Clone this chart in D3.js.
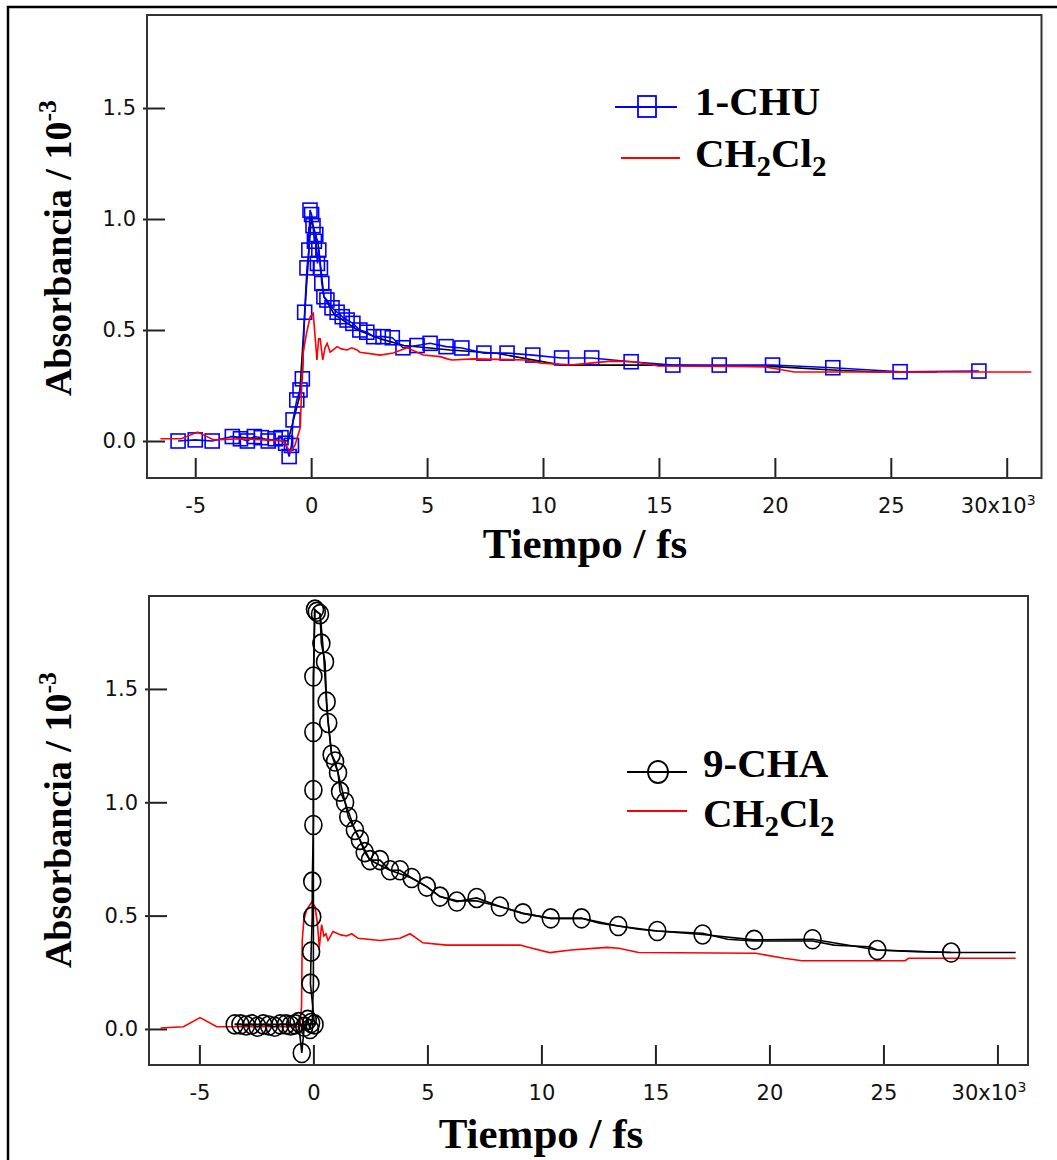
<!DOCTYPE html>
<html>
<head>
<meta charset="utf-8">
<script src="https://cdn.jsdelivr.net/npm/d3@7"></script>
<style>
  body { margin: 0; background: #fff; }
  svg { display: block; }
  .tick text { font-family: "DejaVu Sans", sans-serif; font-size: 21px; fill: #111; }
  .serif { font-family: "Liberation Serif", "Times New Roman", serif; font-weight: bold; fill: #000; }
</style>
</head>
<body>
<svg width="1057" height="1160"></svg>
<script>
// ---- data (time in 10^3 fs, absorbance in 10^-3) ----
let xTicks = [-5, 0, 5, 10, 15, 20, 25, 30];
let xTickLabels = ["-5", "0", "5", "10", "15", "20", "25", "30x10"];
let yTicks = [0, 0.5, 1.0, 1.5];
let yTickLabels = ["0.0", "0.5", "1.0", "1.5"];

// top panel: 1-CHU
let chu = [[-5.74,0.0],[-5.0,0.005],[-4.27,0.0],[-3.4,0.02],[-3.05,0.01],[-2.75,0.0],[-2.45,0.02],
  [-2.15,0.015],[-1.85,0.0],[-1.55,0.01],[-1.3,0.015],[-1.1,-0.01],[-0.95,-0.07],[-0.85,-0.02],
  [-0.78,0.095],[-0.62,0.185],[-0.48,0.23],[-0.38,0.28],[-0.28,0.58],[-0.18,0.78],[-0.1,0.86],
  [-0.05,1.04],[0.02,1.02],[0.08,0.97],[0.14,0.9],[0.2,0.93],[0.27,0.8],[0.33,0.86],[0.4,0.78],
  [0.46,0.71],[0.55,0.65],[0.68,0.635],[0.9,0.6],[1.12,0.58],[1.34,0.56],[1.55,0.545],[1.8,0.53],
  [2.1,0.5],[2.4,0.49],[2.7,0.47],[3.1,0.47],[3.5,0.465],[3.96,0.42],[4.57,0.43],[5.13,0.44],
  [5.82,0.425],[6.5,0.419],[7.45,0.396],[8.45,0.396],[9.56,0.387],[10.8,0.374],[12.1,0.374],
  [13.8,0.357],[15.6,0.342],[17.6,0.342],[19.9,0.342],[22.5,0.33],[25.4,0.312],[28.8,0.315]];
let chuFit = [[-3.5,0.02],[-1,0.0],[-0.5,0.2],[-0.2,0.7],[0,1.0],[0.3,0.89],[0.55,0.65],[1,0.57],
  [2,0.5],[3,0.46],[4,0.43],[6,0.41],[8,0.395],[10.8,0.342],[14.8,0.342],[20,0.335],[22.5,0.32],
  [24.4,0.311],[27,0.311]];
let solventTop = [[-6.5,0.01],[-5.6,0.01],[-4.9,0.04],[-4.2,0.005],[-3,0.01],[-2,0.005],[-1.2,0.0],
  [-0.9,-0.05],[-0.7,-0.02],[-0.47,0.06],[-0.4,0.27],[-0.34,0.4],[-0.19,0.49],[-0.04,0.56],
  [0.09,0.575],[0.17,0.47],[0.25,0.365],[0.32,0.46],[0.39,0.46],[0.5,0.365],[0.6,0.42],[0.69,0.44],
  [0.82,0.40],[1.12,0.425],[1.3,0.415],[1.55,0.41],[1.75,0.42],[1.98,0.41],[2.1,0.40],[2.98,0.387],
  [3.54,0.396],[4.14,0.42],[4.83,0.387],[5.57,0.38],[5.87,0.37],[6.07,0.365],[7.0,0.37],[9.26,0.365],
  [9.92,0.35],[11.26,0.343],[12.94,0.36],[13.96,0.357],[14.97,0.338],[19.5,0.335],[20.17,0.323],
  [20.84,0.311],[31.06,0.311]];

// bottom panel: 9-CHA
let cha = [[-3.45,0.02],[-3.2,0.02],[-2.95,0.015],[-2.7,0.02],[-2.45,0.01],[-2.2,0.02],[-1.95,0.015],
  [-1.7,0.01],[-1.45,0.02],[-1.2,0.02],[-1.0,0.015],[-0.8,0.02],[-0.65,0.03],[-0.51,-0.106],
  [-0.4,0.01],[-0.25,0.04],[-0.15,0.0],[-0.1,0.026],[0.05,0.02],[-0.13,0.2],[-0.1,0.341],
  [-0.05,0.495],[-0.05,0.65],[0,0.90],[0,1.054],[0,1.31],[0,1.555],[0.07,1.85],[0.15,1.84],
  [0.29,1.83],[0.35,1.70],[0.51,1.62],[0.58,1.444],[0.65,1.35],[0.8,1.21],[0.95,1.18],[1.08,1.13],
  [1.17,1.047],[1.39,1.0],[1.53,0.935],[1.82,0.878],[2.04,0.834],[2.25,0.78],[2.48,0.745],
  [2.92,0.745],[3.36,0.70],[3.8,0.70],[4.31,0.666],[4.97,0.628],[5.55,0.584],[6.29,0.562],
  [7.16,0.578],[8.18,0.54],[9.19,0.51],[10.41,0.488],[11.76,0.488],[13.37,0.454],[15.08,0.432],
  [17.07,0.417],[19.33,0.393],[21.89,0.396],[24.73,0.348],[27.97,0.337]];
let chaFit = [[-3.45,0.02],[-0.2,0.02],[-0.05,0.03],[0,0.2],[0,1.5],[0.05,1.85],[0.3,1.83],
  [0.45,1.65],[0.6,1.40],[0.8,1.21],[1.08,1.13],[1.39,1.0],[1.82,0.878],[2.48,0.745],[3.36,0.70],
  [4.31,0.666],[4.97,0.628],[5.55,0.584],[6.3,0.565],[7.16,0.565],[8.18,0.54],[9.19,0.51],
  [10.41,0.488],[11.76,0.488],[12.55,0.466],[13.37,0.454],[14.26,0.44],[15.08,0.432],[17.07,0.422],
  [18.16,0.396],[19.33,0.388],[21.89,0.388],[22.83,0.37],[24.39,0.363],[24.73,0.348],[26.41,0.341],
  [27.97,0.337],[30.8,0.337]];
let solventBot = [[-6.7,0.004],[-5.7,0.01],[-4.97,0.05],[-4.24,0.01],[-2,0.01],[-0.59,0.01],
  [-0.52,0.1],[-0.49,0.39],[-0.42,0.48],[-0.3,0.525],[-0.07,0.56],[0.07,0.54],[0.17,0.47],
  [0.26,0.36],[0.36,0.46],[0.46,0.41],[0.55,0.42],[0.64,0.39],[0.86,0.43],[1.2,0.415],[1.46,0.41],
  [1.68,0.42],[1.96,0.40],[2.92,0.39],[3.8,0.40],[4.24,0.42],[4.8,0.38],[5.85,0.37],[9.06,0.37],
  [9.59,0.356],[10.36,0.337],[11.3,0.348],[12.86,0.36],[13.4,0.356],[14.26,0.337],[19.4,0.334],
  [20.64,0.312],[21.43,0.301],[25.95,0.301],[26.1,0.312],[30.8,0.312]];

let svg = d3.select("svg");

// outer border (only left/top visible)
svg.append("rect")
  .attr("x", 8).attr("y", 7).attr("width", 1200).attr("height", 1300)
  .attr("fill", "none").attr("stroke", "#000").attr("stroke-width", 2.5);

function drawPanel(p) {
  let x = d3.scaleLinear().domain(p.xDom).range([p.left, p.right]);
  let y = d3.scaleLinear().domain(p.yDom).range([p.bottom, p.top]);
  let g = svg.append("g");

  // x axis, ticks pointing inward
  let xa = g.append("g")
    .attr("transform", "translate(0," + p.bottom + ")")
    .call(d3.axisBottom(x).tickValues(xTicks).tickSize(-20).tickPadding(20)
      .tickFormat((d, i) => xTickLabels[i]));
  xa.select(".domain").remove();
  xa.selectAll(".tick line").attr("stroke", "#222").attr("stroke-width", 2);
  xa.selectAll(".tick text").filter((d, i) => i == xTicks.length - 1)
    .attr("dx", -9)
    .append("tspan").attr("dy", "-0.6em").attr("font-size", "14px").text("3");

  // y axis
  let ya = g.append("g")
    .attr("transform", "translate(" + p.left + ",0)")
    .call(d3.axisLeft(y).tickValues(yTicks).tickSize(-18).tickPadding(11)
      .tickFormat((d, i) => yTickLabels[i]));
  ya.select(".domain").remove();
  ya.selectAll(".tick line").attr("x1", -4).attr("stroke", "#222").attr("stroke-width", 2);

  // frame
  g.append("rect")
    .attr("x", p.left).attr("y", p.top)
    .attr("width", p.right - p.left).attr("height", p.bottom - p.top)
    .attr("fill", "none").attr("stroke", "#333").attr("stroke-width", 2);

  let line = d3.line().x(d => x(d[0])).y(d => y(d[1]));

  p.series.forEach(s => {
    g.append("path").attr("d", line(s.data))
      .attr("fill", "none").attr("stroke", s.color).attr("stroke-width", 1.6);
    if (s.marker == "square") {
      g.selectAll(null).data(s.data).join("rect")
        .attr("x", d => x(d[0]) - 7).attr("y", d => y(d[1]) - 7)
        .attr("width", 14).attr("height", 14)
        .attr("fill", "none").attr("stroke", s.color).attr("stroke-width", 1.6);
    }
    if (s.marker == "circle") {
      g.selectAll(null).data(s.data).join("ellipse")
        .attr("cx", d => x(d[0])).attr("cy", d => y(d[1]))
        .attr("rx", 8.5).attr("ry", 9.5)
        .attr("fill", "none").attr("stroke", s.color).attr("stroke-width", 1.6);
    }
  });

  // axis titles
  g.append("text").attr("class", "serif")
    .attr("x", p.xLabel[0]).attr("y", p.xLabel[1])
    .attr("text-anchor", "middle").attr("font-size", "43px")
    .text("Tiempo / fs");

  let yl = g.append("text").attr("class", "serif")
    .attr("transform", "translate(71," + p.yLabelY + ") rotate(-90)")
    .attr("text-anchor", "middle").attr("font-size", "38px");
  yl.append("tspan").text("Absorbancia / 10");
  yl.append("tspan").attr("dy", -15).attr("font-size", "26px").text("-3");

  // legend
  let L = p.legend;
  g.append("line").attr("x1", L.x1).attr("x2", L.x2).attr("y1", L.y1).attr("y2", L.y1)
    .attr("stroke", L.color).attr("stroke-width", 1.8);
  if (L.marker == "square") {
    g.append("rect").attr("x", L.mx - 9).attr("y", L.y1 - 11).attr("width", 18).attr("height", 21)
      .attr("fill", "none").attr("stroke", L.color).attr("stroke-width", 1.8);
  } else {
    g.append("ellipse").attr("cx", L.mx).attr("cy", L.y1).attr("rx", 10).attr("ry", 11)
      .attr("fill", "none").attr("stroke", L.color).attr("stroke-width", 1.8);
  }
  g.append("text").attr("class", "serif").attr("x", L.tx).attr("y", L.t1)
    .attr("font-size", "41px").text(L.name);
  g.append("line").attr("x1", L.rx1).attr("x2", L.rx2).attr("y1", L.y2).attr("y2", L.y2)
    .attr("stroke", "#ff0000").attr("stroke-width", 1.8);
  let t2 = g.append("text").attr("class", "serif").attr("x", L.tx).attr("y", L.t2)
    .attr("font-size", "41px");
  t2.append("tspan").text("CH");
  t2.append("tspan").attr("dy", 9).attr("font-size", "29px").text("2");
  t2.append("tspan").attr("dy", -9).text("Cl");
  t2.append("tspan").attr("dy", 9).attr("font-size", "29px").text("2");
}

drawPanel({
  left: 147, right: 1041.5, top: 15, bottom: 478,
  xDom: [-7.08, 31.5], yDom: [-0.1667, 1.919],
  xLabel: [585, 558], yLabelY: 248,
  series: [
    {data: chuFit, color: "#000"},
    {data: chu, color: "#0000ff", marker: "square"},
    {data: solventTop, color: "#ff0000"}
  ],
  legend: {x1: 615, x2: 677, y1: 107, mx: 647, color: "#0000ff", marker: "square",
    name: "1-CHU", tx: 695, t1: 115, rx1: 621, rx2: 680, y2: 158, t2: 167}
});

drawPanel({
  left: 149, right: 1028, top: 596, bottom: 1065,
  xDom: [-7.21, 31.34], yDom: [-0.159, 1.910],
  xLabel: [541, 1148], yLabelY: 820,
  series: [
    {data: solventBot, color: "#ff0000"},
    {data: chaFit, color: "#000"},
    {data: cha, color: "#000", marker: "circle"}
  ],
  legend: {x1: 627, x2: 687, y1: 772, mx: 658, color: "#000", marker: "circle",
    name: "9-CHA", tx: 703, t1: 777, rx1: 627, rx2: 687, y2: 811, t2: 827}
});
</script>
</body>
</html>
